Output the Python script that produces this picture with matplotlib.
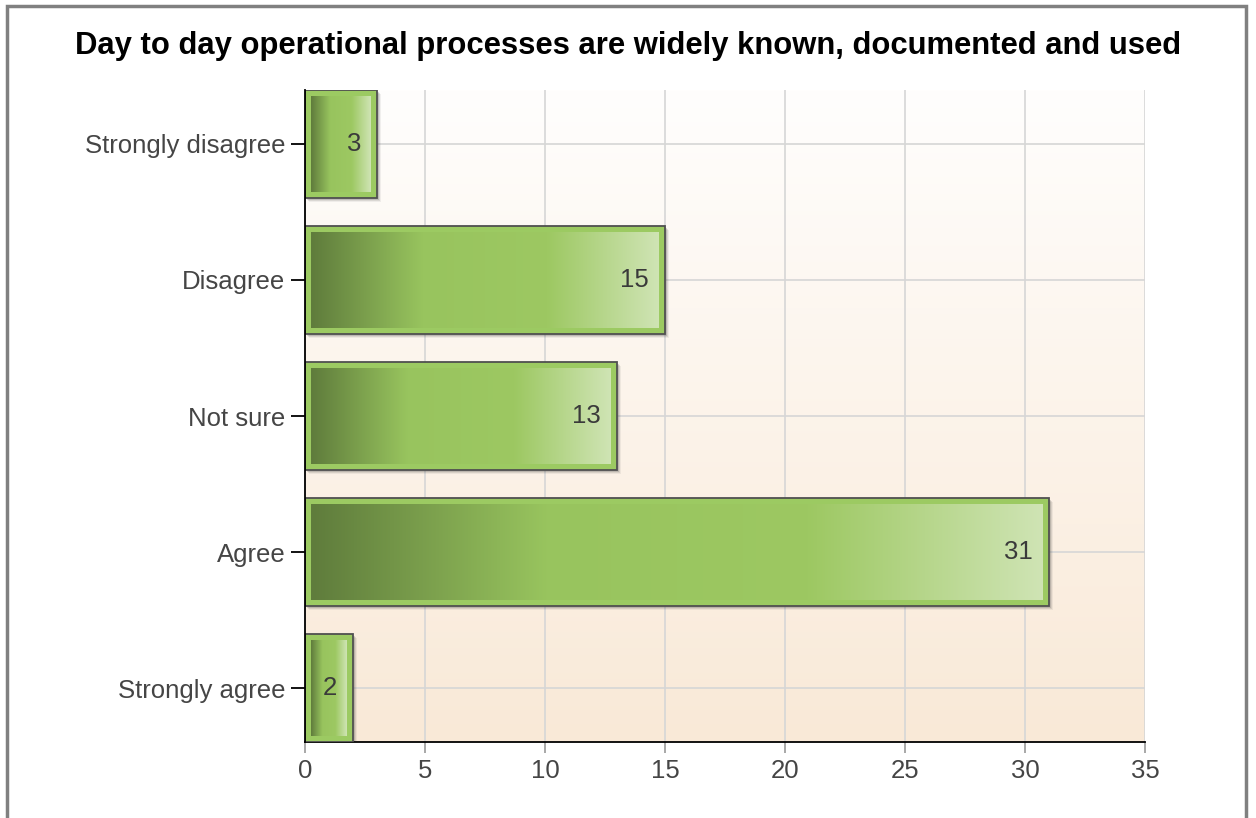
import numpy as np
import matplotlib
matplotlib.use("Agg")
import matplotlib.pyplot as plt
from matplotlib.patches import Rectangle
from matplotlib.colors import LinearSegmentedColormap
import matplotlib.transforms as mtransforms

plt.rcParams['font.family'] = ['Liberation Sans', 'DejaVu Sans']

### data ###
categories = ["Strongly disagree", "Disagree", "Not sure", "Agree", "Strongly agree"]
values     = [3, 15, 13, 31, 2]
title      = "Day to day operational processes are widely known, documented and used"
xticks     = [0, 5, 10, 15, 20, 25, 30, 35]

W, H = 1256, 818
fig = plt.figure(figsize=(W/100, H/100), dpi=100)
fig.patch.set_facecolor("white")

# outer gray frame
fig.patches.append(Rectangle((7/W, -0.05), (1246-7)/W, 1.05 - 6/H, transform=fig.transFigure,
                             fill=False, edgecolor="#808080", linewidth=2.5))

ax = fig.add_axes([305/W, 1-742/H, (1145-305)/W, (742-90)/H])

# background gradient white -> beige
bg = LinearSegmentedColormap.from_list("bg", ["#fffefd", "#f9e9d7"])
ax.imshow(np.linspace(0, 1, 256).reshape(-1, 1), cmap=bg, extent=[0, 1, 0, 1],
          transform=ax.transAxes, aspect="auto", zorder=-10)

barcmap = LinearSegmentedColormap.from_list("bar", [(0.0, "#5f7c3c"), (0.32, "#98c45e"),
                                                   (0.68, "#9dc862"), (1.0, "#cfe4b4")])
h = 0.794
px_x = 35/840.0
px_y = (2*0.397 + 4)/652.0

for i, v in enumerate(values):
    y0 = i - h/2
    # shadow
    for k, a in enumerate([0.18, 0.12, 0.07]):
        sh = mtransforms.offset_copy(ax.transData, fig, x=2+k, y=-(2+k), units="dots")
        ax.add_patch(Rectangle((0, y0), v, h, transform=sh, facecolor="#404040",
                               edgecolor="none", alpha=a, zorder=2))
    ax.add_patch(Rectangle((0, y0), v, h, facecolor="#9cca62", edgecolor="#505050",
                           linewidth=1.3, zorder=3))
    ix, iy = 6*px_x, 6*px_y
    ax.imshow(np.linspace(0, 1, 256).reshape(1, -1), cmap=barcmap,
              extent=[ix, v - ix, y0 + h - iy, y0 + iy], aspect="auto", zorder=4)
    ax.text(v - 16*px_x, i, str(v), ha="right", va="center", fontsize=18.5,
            color="#3a3a3a", zorder=5)

ax.set_xlim(0, 35)
ax.set_ylim(4 + 0.397, -0.397)
ax.set_xticks(xticks)
ax.set_yticks(range(len(categories)))
ax.set_yticklabels(categories)

ax.grid(True, color="#d6d6d6", linewidth=1.2)
ax.set_axisbelow(True)
for s in ["top", "right"]:
    ax.spines[s].set_visible(False)
ax.spines["left"].set_color("black")
ax.spines["bottom"].set_color("black")
ax.spines["left"].set_linewidth(1.3)
ax.spines["bottom"].set_linewidth(1.3)
ax.spines["left"].set_zorder(6)
ax.tick_params(axis="y", length=10, width=1.3, color="black", labelsize=18.5,
               labelcolor="#454545", pad=4)
ax.tick_params(axis="x", length=8, width=1.2, color="#9a9a9a", labelsize=18.5,
               labelcolor="#454545", pad=4)

fig.text(628/W, 1-46/H, title, ha="center", va="center", fontsize=22.3,
         fontweight="bold", color="black")

fig.savefig("out.png", dpi=100)
